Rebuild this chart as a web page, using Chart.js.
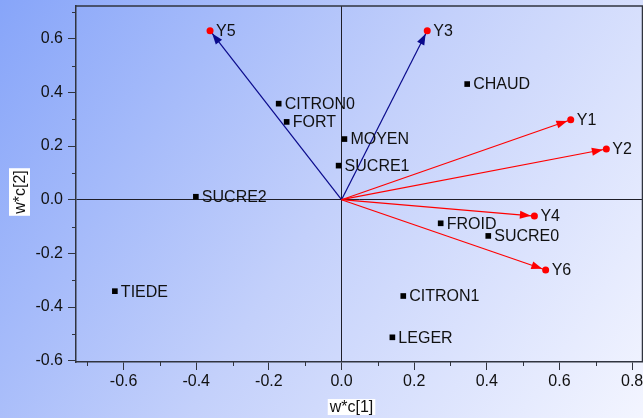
<!DOCTYPE html>
<html>
<head>
<meta charset="utf-8">
<script src="https://cdn.jsdelivr.net/npm/chart.js@4/dist/chart.umd.min.js"></script>
<style>
  html, body { margin: 0; padding: 0; background: #ffffff; }
  #wrap { width: 643px; height: 418px; position: relative; }
</style>
</head>
<body>
<div id="wrap"><canvas id="plot" width="643" height="418"></canvas></div>
<script>
// Observation scores (black squares)
const obsNames = ['CITRON0', 'FORT', 'MOYEN', 'SUCRE1', 'CHAUD', 'SUCRE2', 'TIEDE', 'FROID', 'SUCRE0', 'CITRON1', 'LEGER'];
const obsX = [-0.173, -0.151, 0.008, -0.008, 0.346, -0.401, -0.624, 0.273, 0.404, 0.170, 0.140];
const obsY = [0.358, 0.290, 0.226, 0.127, 0.431, 0.011, -0.341, -0.088, -0.135, -0.359, -0.513];

// Response loadings (arrows from the origin)
const respNames = ['Y1', 'Y2', 'Y3', 'Y4', 'Y5', 'Y6'];
const respX = [0.631, 0.729, 0.236, 0.531, -0.362, 0.562];
const respY = [0.298, 0.189, 0.630, -0.061, 0.630, -0.262];
const respColor = ['#ff0000', '#ff0000', '#0a0a8c', '#ff0000', '#0a0a8c', '#ff0000'];

// Axis ticks
const xTickLabels = ['-0.6', '-0.4', '-0.2', '0.0', '0.2', '0.4', '0.6', '0.8'];
const yTickLabels = ['-0.6', '-0.4', '-0.2', '0.0', '0.2', '0.4', '0.6'];

const FONT = '"Liberation Sans", Arial, sans-serif';
const AXIS = '#30343f';

const isMajor = v => Math.abs(Math.round(v * 5) - v * 5) < 1e-6;
const isZero = v => Math.abs(v) < 1e-9;
const fmt = v => (isZero(v) ? 0 : v).toFixed(1);

const backdrop = {
  id: 'backdrop',
  beforeDraw(chart) {
    const { ctx, width, height } = chart;
    const g = ctx.createLinearGradient(0, 0, width, height);
    g.addColorStop(0, '#87a5f9');
    g.addColorStop(0.5, '#c3d0fb');
    g.addColorStop(1, '#f3f5ff');
    ctx.save();
    ctx.fillStyle = g;
    ctx.fillRect(0, 0, width, height);
    ctx.restore();
  }
};

const arrowHeads = {
  id: 'arrowHeads',
  afterDatasetDraw(chart, args) {
    const ds = chart.data.datasets[args.index];
    if (!ds.isArrow) return;
    const pts = args.meta.data;
    const x0 = pts[0].x, y0 = pts[0].y, x1 = pts[1].x, y1 = pts[1].y;
    const ang = Math.atan2(y1 - y0, x1 - x0);
    const back = 3.5, len = 11, half = 4;
    const tx = x1 - back * Math.cos(ang), ty = y1 - back * Math.sin(ang);
    const bx = tx - len * Math.cos(ang), by = ty - len * Math.sin(ang);
    const ctx = chart.ctx;
    ctx.save();
    ctx.fillStyle = ds.borderColor;
    ctx.beginPath();
    ctx.moveTo(tx, ty);
    ctx.lineTo(bx + half * Math.sin(ang), by - half * Math.cos(ang));
    ctx.lineTo(bx - half * Math.sin(ang), by + half * Math.cos(ang));
    ctx.closePath();
    ctx.fill();
    ctx.restore();
  }
};

const decorations = {
  id: 'decorations',
  afterDatasetsDraw(chart) {
    const { ctx, chartArea: a } = chart;
    const xs = chart.scales.x, ys = chart.scales.y;
    ctx.save();
    // frame top and right
    ctx.strokeStyle = AXIS;
    ctx.lineWidth = 1.5;
    ctx.beginPath();
    ctx.moveTo(a.left, a.top); ctx.lineTo(a.right - 0.5, a.top); ctx.lineTo(a.right - 0.5, a.bottom);
    ctx.stroke();
    // minor ticks
    ctx.lineWidth = 1;
    ctx.beginPath();
    xs.ticks.forEach(t => {
      if (isMajor(t.value)) return;
      const px = Math.round(xs.getPixelForValue(t.value)) + 0.5;
      ctx.moveTo(px, a.bottom); ctx.lineTo(px, a.bottom + 4);
    });
    ys.ticks.forEach(t => {
      if (isMajor(t.value)) return;
      const py = Math.round(ys.getPixelForValue(t.value)) + 0.5;
      ctx.moveTo(a.left, py); ctx.lineTo(a.left - 4, py);
    });
    ctx.stroke();

    // point labels
    ctx.fillStyle = '#111111';
    ctx.font = '16px ' + FONT;
    ctx.textBaseline = 'middle';
    ctx.textAlign = 'left';
    const dotMeta = chart.getDatasetMeta(0);
    dotMeta.data.forEach((p, i) => ctx.fillText(respNames[i], p.x + 6, p.y + 1));
    const sqMeta = chart.getDatasetMeta(1);
    sqMeta.data.forEach((p, i) => ctx.fillText(obsNames[i], p.x + 6, p.y + 1));

    // axis titles in white boxes
    ctx.font = '16px ' + FONT;
    ctx.textAlign = 'center';
    const xt = 'w*c[1]';
    const xw = ctx.measureText(xt).width + 4;
    const xcx = xs.getPixelForValue(0) + 10;
    const xcy = 407;
    ctx.fillStyle = '#ffffff';
    ctx.fillRect(xcx - xw / 2, xcy - 8, xw, 16);
    ctx.fillStyle = '#111111';
    ctx.fillText(xt, xcx, xcy + 1);

    const yt = 'w*c[2]';
    const yw = ctx.measureText(yt).width + 4;
    ctx.translate(19.5, 192);
    ctx.rotate(-Math.PI / 2);
    ctx.fillStyle = '#ffffff';
    ctx.fillRect(-yw / 2, -10.5, yw, 21);
    ctx.fillStyle = '#111111';
    ctx.fillText(yt, 0, 1);
    ctx.restore();
  }
};

const arrowSets = respNames.map((n, i) => ({
  isArrow: true,
  data: [{ x: 0, y: 0 }, { x: respX[i], y: respY[i] }],
  showLine: true,
  borderColor: respColor[i],
  borderWidth: 1.2,
  pointRadius: 0,
  fill: false
}));

new Chart(document.getElementById('plot'), {
  type: 'scatter',
  data: {
    datasets: [
      {
        data: respX.map((x, i) => ({ x, y: respY[i] })),
        pointStyle: 'circle',
        pointRadius: 3.5,
        backgroundColor: '#ff0000',
        borderColor: '#ff0000',
        borderWidth: 0
      },
      {
        data: obsX.map((x, i) => ({ x, y: obsY[i] })),
        pointStyle: 'rect',
        pointRadius: 4,
        backgroundColor: '#000000',
        borderColor: '#000000',
        borderWidth: 0
      },
      ...arrowSets
    ]
  },
  options: {
    responsive: false,
    animation: false,
    events: [],
    layout: { autoPadding: false, padding: { top: 6, right: 0, left: 0, bottom: 0 } },
    plugins: { legend: { display: false }, tooltip: { enabled: false } },
    scales: {
      x: {
        type: 'linear',
        min: -0.731,
        max: 0.83,
        afterFit(s) { s.height = 56; s.paddingLeft = 0; s.paddingRight = 0; s.paddingTop = 0; s.paddingBottom = 0; },
        border: { display: true, color: AXIS, width: 1.5 },
        grid: {
          drawOnChartArea: true,
          tickLength: 8,
          lineWidth: 1,
          color: c => (c.tick && isZero(c.tick.value) ? '#1e1e28' : 'rgba(0,0,0,0)'),
          tickColor: c => (c.tick && isMajor(c.tick.value) ? AXIS : 'rgba(0,0,0,0)')
        },
        ticks: {
          stepSize: 0.1,
          includeBounds: false,
          maxRotation: 0,
          autoSkip: false,
          padding: 2,
          color: '#111111',
          font: { family: FONT, size: 16 },
          callback: v => (isMajor(v) && xTickLabels.includes(fmt(v)) ? fmt(v) : '')
        }
      },
      y: {
        type: 'linear',
        min: -0.605,
        max: 0.722,
        afterFit(s) { s.width = 76; s.paddingLeft = 0; s.paddingRight = 0; s.paddingTop = 0; s.paddingBottom = 0; },
        border: { display: true, color: AXIS, width: 1.5 },
        grid: {
          drawOnChartArea: true,
          tickLength: 8,
          lineWidth: 1,
          color: c => (c.tick && isZero(c.tick.value) ? '#1e1e28' : 'rgba(0,0,0,0)'),
          tickColor: c => (c.tick && isMajor(c.tick.value) ? AXIS : 'rgba(0,0,0,0)')
        },
        ticks: {
          stepSize: 0.1,
          includeBounds: false,
          autoSkip: false,
          padding: 5,
          color: '#111111',
          font: { family: FONT, size: 16 },
          callback: v => (isMajor(v) && yTickLabels.includes(fmt(v)) ? fmt(v) : '')
        }
      }
    }
  },
  plugins: [backdrop, arrowHeads, decorations]
});
</script>
</body>
</html>
